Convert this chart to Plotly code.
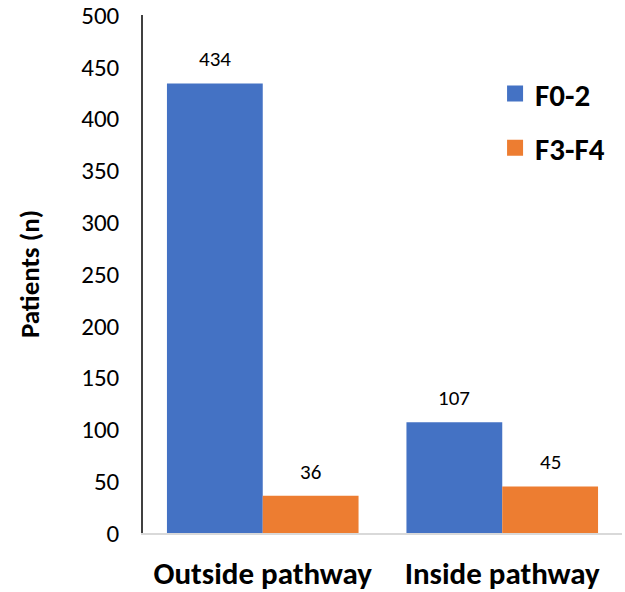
import plotly.graph_objects as go

categories = ["Outside pathway", "Inside pathway"]
series_names = ["F0-2", "F3-F4"]
f02_values = [434, 107]
f34_values = [36, 45]
y_ticks = [0, 50, 100, 150, 200, 250, 300, 350, 400, 450, 500]

colors = ["#4472C4", "#ED7D31"]
font_family = "Carlito, Lato, sans-serif"

fig = go.Figure()
for name, vals, col in zip(series_names, [f02_values, f34_values], colors):
    fig.add_trace(go.Bar(
        x=categories, y=vals, name=name, marker=dict(color=col, line=dict(width=0)),
        showlegend=False,
    ))
    # legend entry with a larger square swatch
    fig.add_trace(go.Scatter(
        x=[None], y=[None], mode="markers", name=name, legendgroup=name,
        marker=dict(symbol="square", size=16, color=col),
    ))

# value labels above each bar (grouped bars sit ±48 px from the category centre)
for i, vals in enumerate([f02_values, f34_values]):
    shift = -48 if i == 0 else 48
    for cat, v in zip(categories, vals):
        fig.add_annotation(
            x=cat, y=v, text=str(v), showarrow=False,
            xshift=shift, yshift=24, yanchor="middle",
            font=dict(family=font_family, size=21, color="#000"),
        )

fig.update_layout(
    width=625, height=592,
    margin=dict(l=143, r=3, t=15, b=59),
    paper_bgcolor="white", plot_bgcolor="white",
    barmode="group", bargap=0.2, bargroupgap=0,
    font=dict(family=font_family, color="#000"),
    legend=dict(
        x=0.735, y=0.90, xanchor="left", yanchor="top",
        font=dict(family=font_family, size=31, color="#000", weight="bold"),
        tracegroupgap=11, bgcolor="rgba(0,0,0,0)", itemwidth=30,
    ),
    xaxis=dict(
        showgrid=False, showline=True, linecolor="#D9D9D9", linewidth=1.5,
        tickfont=dict(family=font_family, size=31, weight="bold"),
        ticks="", ticklen=0, ticklabelstandoff=12, automargin=False,
    ),
    yaxis=dict(
        range=[0, 500], tickvals=y_ticks, showgrid=False, zeroline=False,
        showline=True, linecolor="#404040", linewidth=1.5,
        ticks="", tickfont=dict(family=font_family, size=25),
        ticklabelstandoff=17, ticklabeloverflow="allow", automargin=False,
        title=dict(text="Patients (n)", standoff=34,
                   font=dict(family=font_family, size=27, weight="bold")),
    ),
)

fig.write_html("out.html")
